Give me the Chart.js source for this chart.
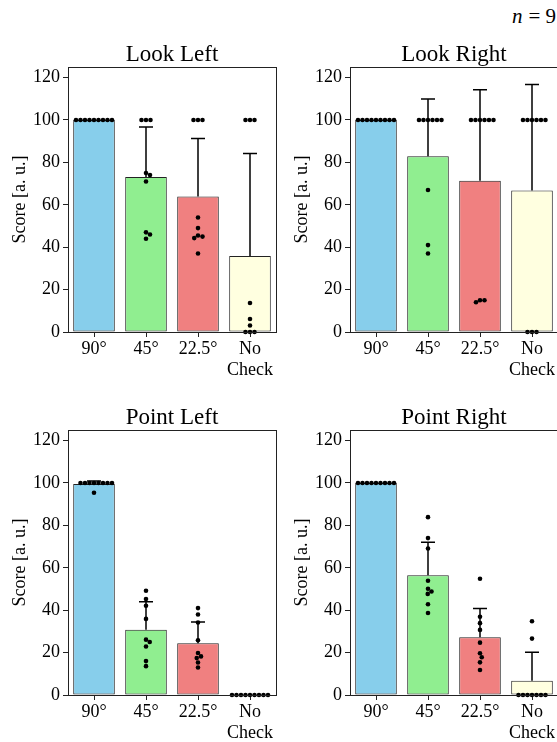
<!DOCTYPE html>
<html>
<head>
<meta charset="utf-8">
<script src="https://cdn.jsdelivr.net/npm/chart.js@4/dist/chart.umd.min.js"></script>
<style>
  html, body { margin: 0; padding: 0; background: #fff; overflow: hidden; width: 557px; height: 742px; }
  canvas { position: absolute; }
  #nlabel { position: absolute; right: 1px; top: 4px; font-family: 'Liberation Serif', serif; font-size: 21px; color: #000; }
  #nlabel i { margin-right: 6px; }
</style>
</head>
<body>
<div id="nlabel"><i>n</i>=&nbsp;9</div>
<canvas id="c0" width="280" height="382" style="left:0;top:0"></canvas>
<canvas id="c1" width="280" height="382" style="left:282px;top:0"></canvas>
<canvas id="c2" width="280" height="382" style="left:0;top:363px"></canvas>
<canvas id="c3" width="280" height="382" style="left:282px;top:363px"></canvas>
<script>
// categories and tick labels
const categories = ['90°', '45°', '22.5°', ['No', 'Check']];
const yTicks = [0, 20, 40, 60, 80, 100, 120];
const panelTitles = ['Look Left', 'Look Right', 'Point Left', 'Point Right'];
const barColors = ['#87ceeb', '#90ee90', '#f08080', '#ffffe0'];

// individual scores (n = 9 per condition)
const lookLeftScores = [
    [100, 100, 100, 100, 100, 100, 100, 100, 100],
    [100, 100, 100, 75, 74, 71, 47, 46, 44],
    [100, 100, 100, 54, 49, 45.5, 45, 44.3, 37],
    [100, 100, 100, 13.7, 6.1, 3.1, 0, 0, 0]
];
const lookRightScores = [
    [100, 100, 100, 100, 100, 100, 100, 100, 100],
    [100, 100, 100, 100, 100, 100, 67, 41, 37],
    [100, 100, 100, 100, 100, 100, 15, 14, 15],
    [100, 100, 100, 100, 100, 100, 0, 0, 0]
];
const pointLeftScores = [
    [100, 100, 100, 100, 100, 100, 100, 100, 95.4],
    [49.2, 45.3, 42.1, 35.9, 26.1, 25, 22.9, 16, 13.6],
    [41, 38, 34.2, 25.8, 19.8, 18.2, 17.4, 15.3, 13],
    [0, 0, 0, 0, 0, 0, 0, 0, 0]
];
const pointRightScores = [
    [100, 100, 100, 100, 100, 100, 100, 100, 100],
    [83.9, 74, 69.1, 53.9, 50.1, 48.8, 47.7, 42.8, 38.7],
    [54.8, 36.9, 33.9, 30.7, 24.7, 19.7, 17.8, 15.4, 11.8],
    [34.8, 26.6, 0, 0, 0, 0, 0, 0, 0]
];

// bar heights (mean) and upper error (SD)
const lookLeftMean = [100, 73.1, 63.9, 35.8];
const lookLeftSd = [0, 23.6, 27.4, 48.4];
const lookRightMean = [100, 82.9, 71.4, 66.7];
const lookRightSd = [0, 27, 42.9, 50];
const pointLeftMean = [99.5, 30.8, 24.4, 0];
const pointLeftSd = [1.5, 13.2, 10, 0];
const pointRightMean = [100, 56.5, 27.2, 6.7];
const pointRightSd = [0, 15.6, 13.6, 13.5];

const FONT = 'Liberation Serif';
const EDGE = '#222';

// draws the upper error bar with a cap, after the bars and before the dots
const errorBars = {
    id: 'errorBars',
    afterDatasetDraw(chart, args) {
        if (args.meta.type !== 'bar') return;
        const ds = chart.data.datasets[args.index];
        const x = chart.scales.x, y = chart.scales.y;
        const ctx = chart.ctx;
        ctx.save();
        ctx.strokeStyle = '#000';
        ctx.lineWidth = 1.5;
        ds.data.forEach((m, i) => {
            const sd = ds.sd[i];
            if (!sd) return;
            const px = x.getPixelForValue(i);
            const y0 = y.getPixelForValue(m);
            const y1 = y.getPixelForValue(m + sd);
            ctx.beginPath();
            ctx.moveTo(px, y0);
            ctx.lineTo(px, y1);
            ctx.moveTo(px - 7, y1);
            ctx.lineTo(px + 7, y1);
            ctx.stroke();
        });
        ctx.restore();
    }
};

// full box round the plot area
const frame = {
    id: 'frame',
    afterDraw(chart) {
        const a = chart.chartArea, ctx = chart.ctx;
        ctx.save();
        ctx.strokeStyle = EDGE;
        ctx.lineWidth = 1;
        ctx.strokeRect(Math.round(a.left) + 0.5, Math.round(a.top) + 0.5,
            Math.round(a.right - a.left), Math.round(a.bottom - a.top));
        ctx.restore();
    }
};

function makePanel(id, title, means, sds, scores) {
    const ctx = document.getElementById(id).getContext('2d');
    const chart = new Chart(ctx, {
        data: {
            labels: categories,
            datasets: [
                {
                    type: 'scatter',
                    data: [],
                    xAxisID: 'xs',
                    yAxisID: 'y',
                    order: 1,
                    pointRadius: 2.3,
                    pointBackgroundColor: '#000',
                    pointBorderWidth: 0,
                    clip: false
                },
                {
                    type: 'bar',
                    data: means,
                    sd: sds,
                    xAxisID: 'x',
                    yAxisID: 'y',
                    order: 2,
                    grouped: false,
                    backgroundColor: barColors,
                    borderColor: EDGE,
                    borderWidth: 1,
                    borderSkipped: false,
                    barPercentage: 0.8,
                    categoryPercentage: 1.0
                }
            ]
        },
        options: {
            responsive: false,
            animation: false,
            devicePixelRatio: 1,
            layout: { padding: { top: 0, left: 0, right: 4, bottom: 0 } },
            plugins: {
                legend: { display: false },
                tooltip: { enabled: false }
            },
            scales: {
                x: {
                    type: 'category',
                    offset: true,
                    afterFit: function(s) { s.height = 50; },
                    grid: { display: true, drawOnChartArea: false, offset: false, tickLength: 5, color: EDGE },
                    border: { display: true, color: EDGE },
                    ticks: {
                        color: '#000',
                        padding: 2,
                        maxRotation: 0,
                        autoSkip: false,
                        font: { family: FONT, size: 18, lineHeight: 1.15 }
                    }
                },
                // top axis only carries the panel title, centred over the plot
                top: {
                    type: 'category',
                    position: 'top',
                    offset: true,
                    afterFit: function(s) { s.height = 67; },
                    grid: { display: false },
                    border: { display: false },
                    ticks: { display: false },
                    title: {
                        display: true,
                        text: title,
                        color: '#000',
                        font: { family: FONT, size: 23 },
                        padding: { top: 41, bottom: 0 }
                    }
                },
                xs: {
                    type: 'linear',
                    display: false,
                    min: -0.5,
                    max: 3.5
                },
                y: {
                    min: 0,
                    max: 125,
                    afterFit: function(s) { s.width = 68; },
                    afterBuildTicks: function(s) {
                        s.ticks = yTicks.map(v => ({ value: v }));
                    },
                    grid: { display: true, drawOnChartArea: false, tickLength: 5, color: EDGE },
                    border: { display: true, color: EDGE },
                    ticks: {
                        color: '#000',
                        padding: 3,
                        font: { family: FONT, size: 18 }
                    },
                    title: {
                        display: true,
                        text: 'Score [a. u.]',
                        color: '#000',
                        font: { family: FONT, size: 18 },
                        padding: { top: 9, bottom: 0 }
                    }
                }
            }
        },
        plugins: [errorBars, frame]
    });

    // swarm layout of the dots, done in pixels with the chart's own scales
    const xs = chart.scales.xs, y = chart.scales.y;
    const d = 4.4;
    const pts = [];
    scores.forEach((vals, i) => {
        const cx = xs.getPixelForValue(i);
        const placed = [];
        vals.slice().sort((a, b) => b - a).forEach(v => {
            const py = y.getPixelForValue(v);
            let off = 0, step = 0;
            while (true) {
                const cand = cx + off;
                const hit = placed.some(p => Math.hypot(p.x - cand, p.y - py) < d - 0.01);
                if (!hit) { placed.push({ x: cand, y: py }); break; }
                step++;
                off = Math.ceil(step / 2) * 0.25 * (step % 2 ? 1 : -1);
            }
            pts.push({ x: xs.getValueForPixel(placed[placed.length - 1].x), y: v });
        });
    });
    chart.data.datasets[0].data = pts;
    chart.update('none');
    return chart;
}

makePanel('c0', panelTitles[0], lookLeftMean, lookLeftSd, lookLeftScores);
makePanel('c1', panelTitles[1], lookRightMean, lookRightSd, lookRightScores);
makePanel('c2', panelTitles[2], pointLeftMean, pointLeftSd, pointLeftScores);
makePanel('c3', panelTitles[3], pointRightMean, pointRightSd, pointRightScores);
</script>
</body>
</html>
